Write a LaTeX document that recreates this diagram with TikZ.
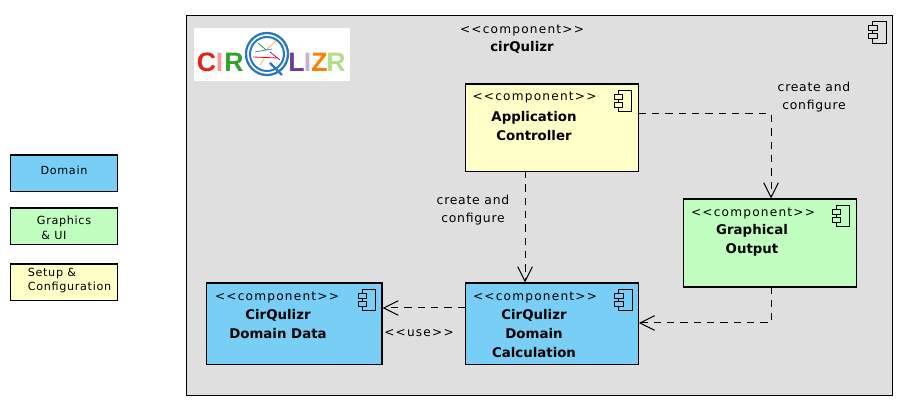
\documentclass[tikz,border=0pt]{standalone}
\usepackage{fontspec}
\setmainfont{DejaVu Sans}
\newfontfamily\stereofont[LetterSpace=10]{DejaVu Sans}
\newfontfamily\notefont[LetterSpace=6]{DejaVu Sans}
\newfontfamily\logofont{Liberation Sans}
\usepackage{xcolor}
\usetikzlibrary{arrows.meta, positioning, calc}
\definecolor{csdomain}{HTML}{79CEF6}
\definecolor{csgraphics}{HTML}{C0FFC0}
\definecolor{cssetup}{HTML}{FFFFC8}
\definecolor{csframe}{HTML}{DFDFDF}
\definecolor{csring}{HTML}{2878BE}
\tikzset{
  compicon/.pic={
    \draw[line width=0.7pt] (-20.4,6.5) rectangle (-6.7,28);
    \draw[line width=0.7pt, fill=#1] (-24.4,10.5) rectangle (-15.7,15.5);
    \draw[line width=0.7pt, fill=#1] (-24.4,18.8) rectangle (-15.7,23.8);
  },
}
\begin{document}
\begin{tikzpicture}[
    x=0.75pt, y=-0.75pt,
    compbox/.style={rectangle, draw=black, line width=0.8pt, fill=#1, inner sep=0pt, anchor=north west},
    legendbox/.style={rectangle, draw=black, line width=0.8pt, fill=#1, inner sep=0pt, anchor=north west, minimum width=80.25pt, minimum height=27.4pt},
    stereotext/.style={font=\stereofont\fontsize{9.1pt}{10pt}\selectfont},
    nametext/.style={font=\bfseries\fontsize{10pt}{14.2pt}\selectfont, align=center},
    notetext/.style={font=\notefont\fontsize{9.3pt}{13.5pt}\selectfont, align=center},
    legendtext/.style={font=\notefont\fontsize{8.4pt}{11pt}\selectfont, align=left},
    logoletter/.style={font=\logofont\bfseries\fontsize{20pt}{20pt}\selectfont, inner sep=0pt},
    depline/.style={dashed, dash pattern=on 5.5pt off 4.5pt, line width=0.75pt, -{Straight Barb[length=11pt,width=11pt,line width=0.75pt]}},
]
\useasboundingbox (0,0) rectangle (899,402);

% Outer component
\node[compbox=csframe, minimum width=529.5pt, minimum height=285pt] (main) at (186,15) {};
\pic at (main.north east) {compicon=csframe};
\node[stereotext] (mainstereo) at (522,31) {<<component>>};
\node[nametext] (mainname) at (522,47.5) {cirQulizr};

% Logo
\fill[white] (194,28) rectangle (350,81);
\foreach \lx/\lc/\lt in {206.5/E2231A/C, 219.5/FB9A99/I, 234/33A02C/R, 296.5/6A3D9A/L, 307.5/CAB2D6/I, 319.5/FF7F00/Z, 336/B2DF8A/R}{
  \definecolor{logocol}{HTML}{\lc}
  \node[logoletter, text=logocol] at (\lx,62.5) {\lt};
}
\draw[csring, line width=1.7pt] (267,54) circle (21);
\draw[csring, line width=1.5pt] (267,54) circle (17);
\draw[csring, line width=1.7pt] (270,63) -- (282,75);
\draw[red, line width=0.6pt] (253,57) -- (278,58);
\draw[green!60!black, line width=0.5pt] (258,43) -- (266,50);
\draw[orange!70, line width=0.5pt] (266,50) -- (276,41);
\draw[violet, line width=0.5pt] (270,52) -- (280,60);
\draw[csring, line width=0.5pt] (255,52) -- (272,49);
\draw[orange!70, line width=0.5pt] (260,65) -- (264,59);

% Inner components
\node[compbox=cssetup, minimum width=129.4pt, minimum height=65.6pt] (appctrl) at (465,83.5) {};
\node[compbox=csgraphics, minimum width=129.4pt, minimum height=66pt] (graphout) at (683,198.5) {};
\node[compbox=csdomain, minimum width=131.6pt, minimum height=61.2pt] (domdata) at (206,282.5) {};
\node[compbox=csdomain, minimum width=129.6pt, minimum height=61.2pt] (domcalc) at (465,282.5) {};
\foreach \comp/\col in {appctrl/cssetup, graphout/csgraphics, domdata/csdomain, domcalc/csdomain}
  \pic at (\comp.north east) {compicon=\col};

% Component labels
\node[stereotext] (appstereo) at (534.5,98) {<<component>>};
\node[nametext] (appname) at (534,126) {Application\\Controller};
\node[stereotext] (outstereo) at (753,214) {<<component>>};
\node[nametext] (outname) at (752,240.5) {Graphical\\Output};
\node[stereotext] (datastereo) at (277,298) {<<component>>};
\node[nametext] (dataname) at (278,324) {CirQulizr\\Domain Data};
\node[stereotext] (calcstereo) at (535,298) {<<component>>};
\node[nametext] (calcname) at (534,333.5) {CirQulizr\\Domain\\Calculation};

% Dependencies
\coordinate (appout) at (appctrl.east |- 0,114);
\coordinate (outturn) at (771,114);
\draw[depline] (appout) -- (outturn) -- (outturn |- graphout.north);
\coordinate (appdown) at (525,171);
\draw[depline] (appdown) -- (appdown |- domcalc.north);
\coordinate (outdown) at (771,286.5);
\coordinate (calcin) at (domcalc.east |- 0,323);
\draw[depline] (outdown) -- (outdown |- calcin) -- (calcin);
\coordinate (calcout) at (domcalc.west |- 0,308);
\draw[depline] (calcout) -- (calcout -| domdata.east);

% Dependency labels
\node[notetext] (notetop) at (814,97) {create and\\configure};
\node[notetext] (notecalc) at (473,210.5) {create and\\configure};
\node[stereotext] (noteuse) at (419,333) {<<use>>};

% Legend
\node[legendbox=csdomain] (legdomain) at (10,154.5) {};
\node[legendbox=csgraphics] (leggraphics) at (10,207.5) {};
\node[legendbox=cssetup] (legsetup) at (10,263.5) {};
\node[legendtext] at (64,170.5) {Domain};
\node[legendtext] at (64,227.5) {Graphics\\\hspace*{0.4em}\& UI};
\node[legendtext] at (69.5,280.5) {Setup \&\\Configuration};

\end{tikzpicture}
\end{document}
